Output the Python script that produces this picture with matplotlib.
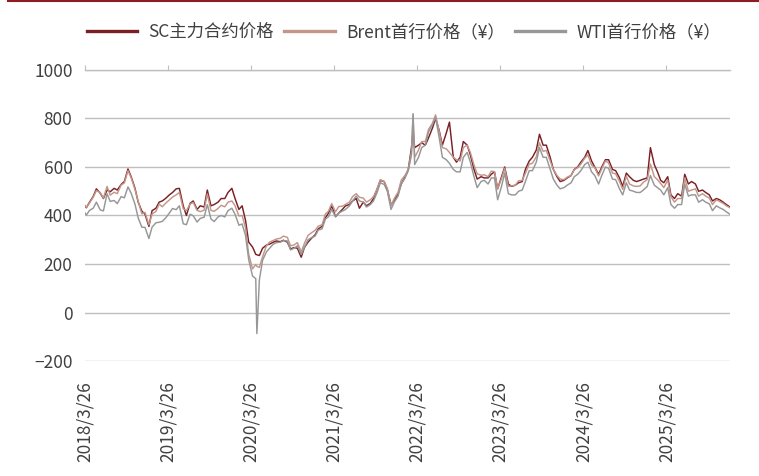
import matplotlib
matplotlib.use("Agg")
import matplotlib.pyplot as plt
import pandas as pd
import numpy as np

plt.rcParams['font.family'] = ['Noto Sans CJK SC', 'DejaVu Sans']

# ---------------- data (CNY / barrel), semi-monthly readings ----------------
# 2018: 03-26, then 1st/15th of Apr..Dec
sc_2018 = [438, 432, 455, 478, 510, 492, 470, 505, 498, 512, 505, 528, 540, 592, 560, 512, 455, 418, 405]
br_2018 = [442, 433, 452, 475, 503, 494, 472, 520, 484, 496, 490, 526, 534, 585, 556, 507, 458, 407, 413]
wt_2018 = [410, 402, 421, 430, 455, 423, 419, 490, 458, 462, 449, 478, 473, 518, 492, 446, 390, 352, 351]

sc_2019 = [355, 420, 430, 455, 460, 470, 485, 495, 510, 512, 440, 400, 450, 460, 425, 440, 435, 505, 440, 445, 455, 470, 470, 495]
br_2019 = [362, 406, 417, 447, 436, 450, 464, 476, 485, 495, 428, 420, 447, 454, 421, 416, 422, 489, 421, 417, 429, 442, 436, 455]
wt_2019 = [305, 352, 370, 372, 376, 389, 410, 429, 424, 440, 366, 362, 405, 399, 373, 388, 393, 445, 386, 375, 394, 400, 394, 420]

sc_2020 = [512, 470, 425, 440, 380, 290, 270, 240, 235, 265, 278, 282, 290, 295, 292, 298, 290, 262, 268, 265, 228, 268, 290, 305]
br_2020 = [460, 440, 398, 400, 350, 240, 180, 198, 186, 230, 275, 290, 297, 303, 306, 315, 310, 275, 279, 288, 250, 285, 318, 328]
wt_2020 = [430, 405, 360, 365, 318, 218, 150, 140, 135, 215, 250, 265, 282, 288, 290, 296, 295, 258, 265, 275, 240, 268, 300, 308]

sc_2021 = [320, 345, 355, 390, 410, 440, 395, 410, 425, 440, 445, 460, 470, 430, 455, 440, 450, 470, 510, 545, 540, 505, 445, 460]
br_2021 = [339, 356, 362, 406, 418, 449, 415, 437, 438, 446, 455, 478, 490, 475, 472, 455, 465, 478, 510, 548, 540, 512, 440, 470]
wt_2021 = [315, 340, 345, 385, 395, 425, 395, 410, 418, 425, 440, 460, 480, 460, 455, 435, 445, 460, 495, 535, 528, 500, 425, 455]

sc_2022 = [490, 530, 560, 590, 680, 680, 690, 700, 690, 720, 760, 800, 750, 690, 740, 785, 640, 620, 640, 705, 690, 650, 590, 550]
br_2022 = [496, 546, 566, 590, 663, 640, 670, 705, 705, 755, 780, 815, 745, 680, 675, 660, 640, 630, 625, 680, 690, 660, 608, 572]
wt_2022 = [480, 530, 555, 585, 650, 610, 640, 680, 690, 745, 775, 805, 720, 640, 630, 615, 590, 580, 580, 640, 660, 620, 560, 515]

sc_2023 = [560, 555, 555, 570, 580, 510, 560, 600, 530, 520, 525, 535, 540, 590, 625, 640, 670, 735, 690, 690, 640, 590, 560, 540]
br_2023 = [566, 568, 560, 583, 581, 512, 552, 595, 520, 522, 525, 543, 545, 574, 612, 615, 642, 700, 665, 668, 625, 590, 565, 550]
wt_2023 = [540, 545, 530, 555, 555, 465, 520, 575, 490, 485, 485, 500, 505, 540, 585, 585, 620, 680, 640, 640, 590, 550, 525, 510]

sc_2024 = [545, 555, 565, 590, 600, 620, 640, 668, 625, 600, 570, 600, 630, 630, 590, 585, 555, 520, 575, 560, 545, 540, 545, 550]
br_2024 = [548, 558, 565, 589, 597, 612, 636, 650, 608, 598, 563, 593, 625, 617, 575, 572, 540, 508, 562, 530, 522, 520, 522, 537]
wt_2024 = [515, 525, 535, 560, 570, 585, 610, 620, 580, 565, 530, 565, 600, 595, 550, 548, 510, 485, 535, 505, 500, 495, 495, 505]

# 2025: 1st/15th of Jan..Dec, then 12-31
sc_2025 = [555, 680, 610, 580, 545, 535, 560, 485, 470, 490, 480, 570, 530, 540, 530, 500, 505, 495, 485, 460, 470, 465, 455, 445, 435]
br_2025 = [548, 612, 560, 548, 532, 515, 546, 478, 455, 470, 470, 555, 500, 505, 510, 480, 490, 480, 472, 445, 465, 458, 450, 440, 432]
wt_2025 = [520, 565, 525, 515, 505, 485, 515, 445, 430, 445, 445, 530, 480, 485, 485, 455, 465, 455, 448, 420, 440, 432, 425, 415, 405]

# single-day spikes
spike_dates = ['2020-04-20', '2022-03-08']
sc_spike = [238, 750]
br_spike = [190, 815]
wt_spike = [-87, 820]

legend_labels = ['SC主力合约价格', 'Brent首行价格（¥）', 'WTI首行价格（¥）']
tick_labels = ['2018/3/26', '2019/3/26', '2020/3/26', '2021/3/26',
               '2022/3/26', '2023/3/26', '2024/3/26', '2025/3/26']

# ---------------- assemble ----------------
base_dates = (list(pd.to_datetime(['2018-03-26'])) +
              list(pd.date_range('2018-04-01', '2025-12-15', freq='SMS')) +
              list(pd.to_datetime(['2025-12-31'])))
sc_vals = sc_2018 + sc_2019 + sc_2020 + sc_2021 + sc_2022 + sc_2023 + sc_2024 + sc_2025
br_vals = br_2018 + br_2019 + br_2020 + br_2021 + br_2022 + br_2023 + br_2024 + br_2025
wt_vals = wt_2018 + wt_2019 + wt_2020 + wt_2021 + wt_2022 + wt_2023 + wt_2024 + wt_2025
assert len(base_dates) == len(sc_vals) == len(br_vals) == len(wt_vals)

df = pd.DataFrame({'date': base_dates, 'sc': sc_vals, 'br': br_vals, 'wt': wt_vals})
df_sp = pd.DataFrame({'date': pd.to_datetime(spike_dates), 'sc': sc_spike, 'br': br_spike, 'wt': wt_spike})
df = pd.concat([df, df_sp]).sort_values('date').reset_index(drop=True)

# ---------------- figure ----------------
W, H = 759, 476
fig = plt.figure(figsize=(W / 100, H / 100), dpi=100)
ax = fig.add_axes([85 / W, 1 - 361 / H, (730 - 85) / W, (361 - 70) / H])

c_sc = '#7A1F24'
c_br = '#C3968A'
c_wt = '#979797'
lw = 1.05
ax.plot(df['date'], df['sc'], color=c_sc, lw=lw, label=legend_labels[0])
ax.plot(df['date'], df['br'], color=c_br, lw=lw, label=legend_labels[1])
ax.plot(df['date'], df['wt'], color=c_wt, lw=lw, label=legend_labels[2])

ax.set_ylim(-200, 1000)
ax.set_yticks(np.arange(-200, 1001, 200))
ax.set_xlim(pd.Timestamp('2018-03-26'), pd.Timestamp('2025-12-31'))
tick_pos = [pd.Timestamp(s.replace('/', '-')) for s in tick_labels]
ax.set_xticks(tick_pos)
ax.set_xticklabels(tick_labels, rotation=90)

grid_c = '#BFBFBF'
ax.grid(axis='y', color=grid_c, lw=1.0)
ax.set_axisbelow(True)
for s in ['left', 'right', 'bottom']:
    ax.spines[s].set_visible(False)
ax.spines['top'].set_color(grid_c)
ax.spines['top'].set_linewidth(1.0)

txt_c = '#404040'
ax.tick_params(axis='y', length=0, pad=9, labelsize=12.5, labelcolor=txt_c)
ax.tick_params(axis='x', bottom=False, top=True, labelbottom=True, labeltop=False,
               direction='out', length=3.5, width=0.8, color=grid_c,
               pad=11, labelsize=12.5, labelcolor=txt_c)

leg = fig.legend(loc='center', bbox_to_anchor=(404 / W, 1 - 32 / H), ncol=3,
                 frameon=False, fontsize=12.5, handlelength=2.9, handletextpad=0.65,
                 columnspacing=0.6, labelcolor=txt_c)
for h in leg.get_lines():
    h.set_linewidth(2.4)

# top decorative rule
fig.add_artist(plt.Line2D([8 / W, 1], [1 - 1 / H, 1 - 1 / H], color='#8C1D22', lw=1.5,
                          transform=fig.transFigure))

fig.savefig('out.png', dpi=100)
